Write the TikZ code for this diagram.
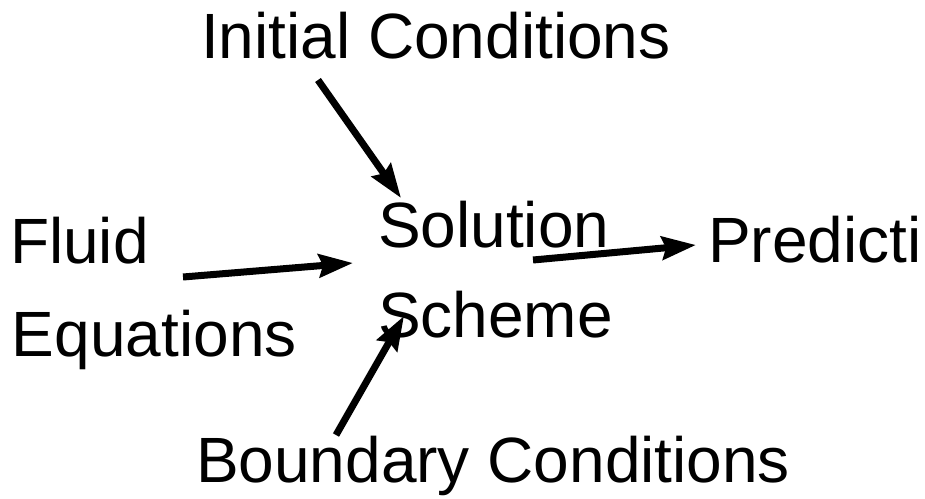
\documentclass[tikz,border=0pt]{standalone}
\usepackage{fontspec}
\setmainfont{Liberation Sans}
\usetikzlibrary{arrows.meta}
\begin{document}
\begin{tikzpicture}[x=1pt,y=-1pt,
  label/.style={anchor=base west,inner sep=0pt,outer sep=0pt,
    font=\fontsize{64}{93}\selectfont,align=left},
  flow/.style={line width=7pt,-{Stealth[length=34pt,width=23pt,inset=4pt]}}]
  \useasboundingbox (0,0) rectangle (925,498);
  % labels
  \node[label] (ic)  at (201,58)  {Initial Conditions};
  \node[label] (fl)  at (10,263)  {Fluid};
  \node[label] (eq)  at (12,356)  {Equations};
  \node[label] (so)  at (378,247) {Solution};
  \node[label] (sc)  at (378,337) {Scheme};
  \node[label] (pr)  at (708,262) {Predicti};
  \node[label] (bc)  at (196,482) {Boundary Conditions};
  % arrow end points
  \coordinate (icA) at (318,80);
  \coordinate (icB) at (401,198);
  \coordinate (flA) at (183,277);
  \coordinate (flB) at (353,263);
  \coordinate (soA) at (533,260);
  \coordinate (soB) at (696,245);
  \coordinate (bcA) at (336,435);
  \coordinate (bcB) at (404,316);
  % arrows
  \draw[flow] (icA) -- (icB);
  \draw[flow] (flA) -- (flB);
  \draw[flow] (soA) -- (soB);
  \draw[flow] (bcA) -- (bcB);
\end{tikzpicture}
\end{document}
